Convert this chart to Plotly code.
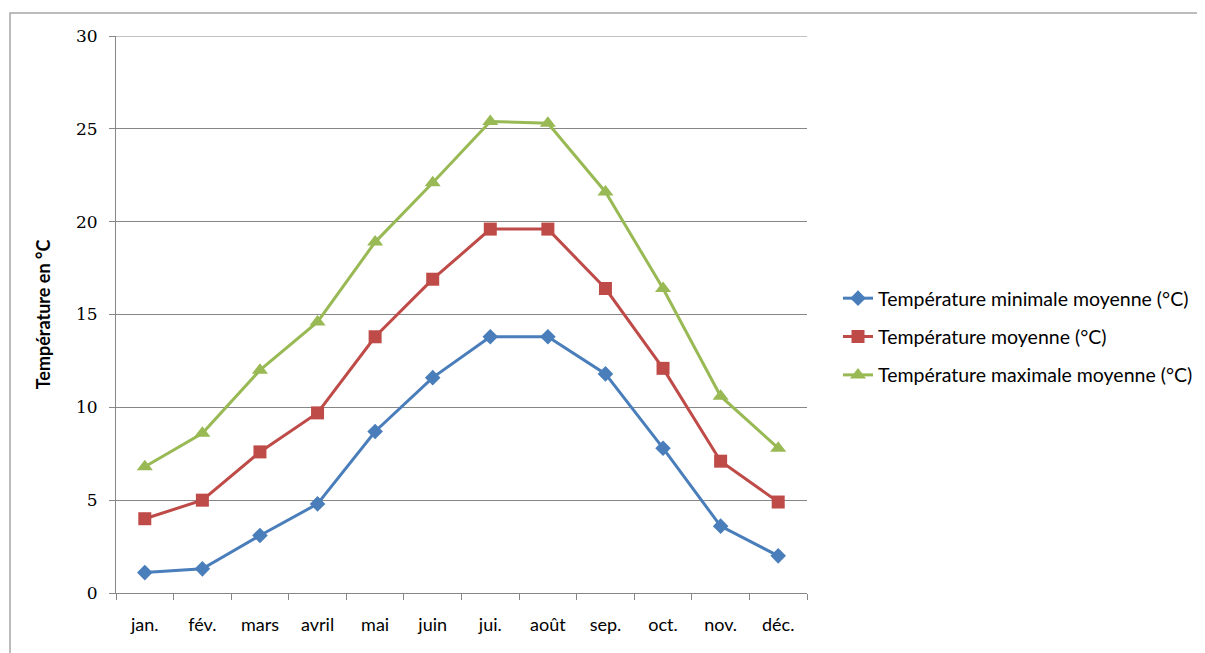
import plotly.graph_objects as go

months = ["jan.", "fév.", "mars", "avril", "mai", "juin", "jui.", "août", "sep.", "oct.", "nov.", "déc."]
t_min = [1.1, 1.3, 3.1, 4.8, 8.7, 11.6, 13.8, 13.8, 11.8, 7.8, 3.6, 2.0]
t_moy = [4.0, 5.0, 7.6, 9.7, 13.8, 16.9, 19.6, 19.6, 16.4, 12.1, 7.1, 4.9]
t_max = [6.8, 8.6, 12.0, 14.6, 18.9, 22.1, 25.4, 25.3, 21.6, 16.4, 10.6, 7.8]
names = ["Température minimale moyenne (°C)", "Température moyenne (°C)", "Température maximale moyenne (°C)"]
y_ticks = [0, 5, 10, 15, 20, 25, 30]

colors = ["#4A7EBB", "#BE4B48", "#98B954"]
symbols = ["diamond", "square", "triangle-up"]
sizes = [12, 13, 14]

fig = go.Figure()
for i, (vals, name) in enumerate(zip([t_min, t_moy, t_max], names)):
    fig.add_trace(go.Scatter(
        x=months, y=vals, name=name, mode="lines+markers",
        line=dict(color=colors[i], width=3),
        marker=dict(symbol=symbols[i], size=sizes[i], color=colors[i]),
        legendgroup=f"g{i}",
    ))

OFF = 8  # page body margin
W, H = 1205, 653
# target plot area in screen pixels: x 116..807, y 36..593
L = 116 - OFF
T = 36 - OFF
R = W + OFF - 807
B = H + OFF - 593
pw, ph = W - L - R, H - T - B

def px(xs):
    return (xs - 116) / pw

def py(ys):
    return (593 - ys) / ph

fig.update_layout(
    width=W, height=H,
    margin=dict(l=L, r=R, t=T, b=B, autoexpand=False),
    paper_bgcolor="white", plot_bgcolor="white",
    font=dict(family="Lato, sans-serif", color="black"),
    showlegend=True,
    legend=dict(
        x=px(838), y=py(279), xanchor="left", yanchor="top",
        font=dict(size=19.5, family="Lato, sans-serif", color="black"),
        tracegroupgap=10, bgcolor="rgba(0,0,0,0)",
    ),
    xaxis=dict(
        type="category", range=[-0.5, 11.5],
        showline=True, linecolor="#868686", linewidth=1,
        ticks="outside", ticklen=6, tickcolor="#868686", tickson="boundaries",
        showgrid=False,
        tickfont=dict(size=18, family="Lato, sans-serif", color="black"),
        ticklabelstandoff=15,
    ),
    yaxis=dict(
        range=[0, 30], tickvals=y_ticks,
        showline=True, linecolor="#868686", linewidth=1,
        ticks="outside", ticklen=6, tickcolor="#868686",
        showgrid=True, gridcolor="#868686", gridwidth=1,
        zeroline=False,
        tickfont=dict(size=17, family="DejaVu Serif, serif", color="black"),
        ticklabelstandoff=8,
        title=dict(text="<b>Température en °C</b>", font=dict(size=18, family="Lato, sans-serif"), standoff=20),
    ),
    shapes=[
        dict(
            type="rect", xref="paper", yref="paper",
            x0=px(10), x1=px(W + 40), y0=py(H + 40), y1=py(13),
            line=dict(color="#A6A6A6", width=1.5), fillcolor="rgba(0,0,0,0)", layer="below",
        ),
        dict(
            type="line", xref="paper", yref="y", x0=0, x1=1, y0=30, y1=30,
            line=dict(color="#868686", width=1), layer="below",
        ),
    ],
)

fig.write_html("out.html")
